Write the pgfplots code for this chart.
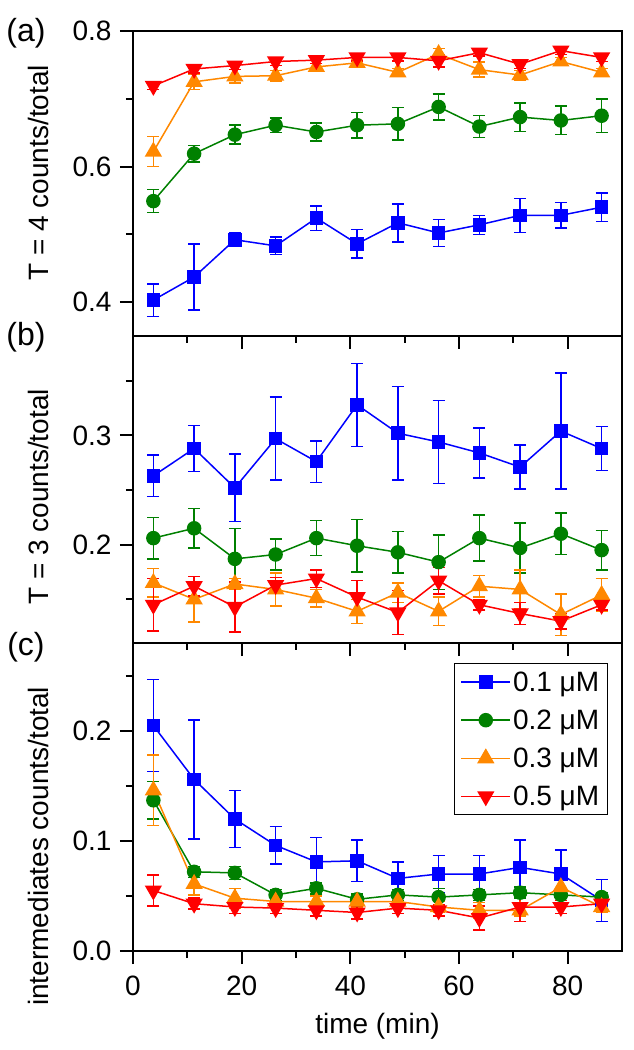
\documentclass[border=0pt]{standalone}
\usepackage{fontspec}
\setmainfont{Liberation Sans}
\usepackage{pgfplots}
\usepackage{pgfplotstable}
\pgfplotsset{compat=1.18}
\definecolor{cB}{RGB}{0,0,255}
\definecolor{cG}{RGB}{0,128,0}
\definecolor{cO}{RGB}{255,136,0}
\definecolor{cR}{RGB}{255,0,0}

\pgfplotstableread{
x     b     be    g     ge    o     oe    r     re
3.75  0.403 0.024 0.549 0.017 0.622 0.022 0.719 0.005
11.25 0.437 0.049 0.619 0.012 0.725 0.011 0.744 0.006
18.75 0.492 0.010 0.647 0.014 0.733 0.010 0.749 0.006
26.25 0.483 0.013 0.661 0.011 0.734 0.008 0.755 0.006
33.75 0.524 0.018 0.651 0.013 0.747 0.005 0.757 0.005
41.25 0.486 0.021 0.661 0.019 0.753 0.004 0.761 0.005
48.75 0.517 0.028 0.663 0.024 0.739 0.006 0.761 0.005
56.25 0.502 0.020 0.688 0.019 0.766 0.008 0.756 0.009
63.75 0.514 0.014 0.659 0.016 0.743 0.011 0.768 0.005
71.25 0.528 0.025 0.673 0.021 0.735 0.007 0.751 0.006
78.75 0.528 0.019 0.668 0.021 0.755 0.006 0.771 0.006
86.25 0.540 0.021 0.675 0.025 0.739 0.006 0.761 0.006
}\tabA

\pgfplotstableread{
x     b     be    g     ge    o     oe    r     re
3.75  0.263 0.019 0.206 0.019 0.165 0.013 0.145 0.024
11.25 0.288 0.021 0.215 0.018 0.150 0.021 0.162 0.009
18.75 0.252 0.031 0.187 0.028 0.164 0.005 0.143 0.023
26.25 0.297 0.038 0.191 0.014 0.159 0.015 0.163 0.007
33.75 0.276 0.019 0.206 0.016 0.151 0.008 0.169 0.008
41.25 0.328 0.038 0.199 0.024 0.139 0.011 0.152 0.015
48.75 0.302 0.043 0.193 0.019 0.156 0.009 0.138 0.020
56.25 0.294 0.038 0.184 0.025 0.139 0.013 0.167 0.012
63.75 0.284 0.023 0.206 0.021 0.162 0.010 0.145 0.005
71.25 0.271 0.020 0.197 0.023 0.159 0.018 0.137 0.010
78.75 0.304 0.053 0.210 0.019 0.136 0.019 0.130 0.007
86.25 0.288 0.020 0.195 0.018 0.154 0.015 0.145 0.005
}\tabB

\pgfplotstableread{
x     b     be    g     ge    o     oe    r     re
3.75  0.205 0.042 0.137 0.017 0.146 0.032 0.055 0.014
11.25 0.156 0.054 0.072 0.005 0.061 0.010 0.043 0.005
18.75 0.120 0.026 0.071 0.006 0.048 0.009 0.040 0.006
26.25 0.096 0.017 0.051 0.005 0.045 0.005 0.039 0.005
33.75 0.081 0.022 0.057 0.005 0.045 0.005 0.037 0.005
41.25 0.082 0.019 0.047 0.005 0.045 0.005 0.035 0.006
48.75 0.066 0.015 0.051 0.005 0.045 0.005 0.039 0.005
56.25 0.070 0.017 0.049 0.008 0.040 0.005 0.037 0.005
63.75 0.070 0.017 0.051 0.005 0.037 0.007 0.030 0.011
71.25 0.076 0.025 0.053 0.005 0.037 0.005 0.040 0.013
78.75 0.070 0.022 0.051 0.005 0.058 0.009 0.040 0.006
86.25 0.046 0.019 0.049 0.004 0.040 0.005 0.043 0.005
}\tabC

\pgfplotsset{
  panel/.style={
    scale only axis, width=489pt,
    xmin=0, xmax=90,
    xtick={0,20,...,80}, minor xtick={10,30,...,70},
    tick align=outside, xtick pos=left, ytick pos=left,
    major tick length=13pt, minor tick length=7pt,
    every tick/.style={black, line width=2pt},
    axis line style={line width=2.5pt},
    tick label style={font=\fontsize{28}{30}\selectfont},
    yticklabel style={xshift=-5pt},
    xticklabel style={yshift=-8pt},
    label style={font=\fontsize{28}{32}\selectfont},
    /pgf/number format/assume math mode=true,
    yticklabel style={/pgf/number format/.cd, fixed, fixed zerofill, precision=1},
    error bars/y dir=both, error bars/y explicit,
    error bars/error bar style={line width=1.5pt},
    error bars/error mark options={rotate=90, line width=1.5pt, mark size=6pt},
  },
  sB/.style={color=cB, line width=1.5pt, mark=square*, mark size=6pt},
  sG/.style={color=cG, line width=1.5pt, mark=*, mark size=6.5pt},
  sO/.style={color=cO, line width=1.5pt, mark=triangle*, mark size=8.5pt},
  sR/.style={color=cR, line width=1.5pt, mark=triangle*, mark size=8.5pt, mark options={rotate=180}},
}

\begin{document}
\begin{tikzpicture}
% panel (a)
\begin{axis}[panel, name=pa, at={(0pt,615pt)}, anchor=south west, height=305pt,
  ymin=0.35, ymax=0.8, ytick={0.4,0.6,0.8}, minor ytick={0.5,0.7},
  xticklabels={},
  ylabel={T = 4 counts/total},
  ylabel style={anchor=center, at={(axis description cs:-0.194,0.535)}}]
\addplot[sB] table[x=x, y=b, y error=be] {\tabA};
\addplot[sG] table[x=x, y=g, y error=ge] {\tabA};
\addplot[sO] table[x=x, y=o, y error=oe] {\tabA};
\addplot[sR] table[x=x, y=r, y error=re] {\tabA};
\end{axis}
% panel (b)
\begin{axis}[panel, name=pb, at={(0pt,308pt)}, anchor=south west, height=307pt,
  ymin=0.110, ymax=0.391, ytick={0.2,0.3}, minor ytick={0.15,0.25,0.35},
  xticklabels={},
  ylabel={T = 3 counts/total},
  ylabel style={anchor=center, at={(axis description cs:-0.194,0.476)}}]
\addplot[sB] table[x=x, y=b, y error=be] {\tabB};
\addplot[sG] table[x=x, y=g, y error=ge] {\tabB};
\addplot[sO] table[x=x, y=o, y error=oe] {\tabB};
\addplot[sR] table[x=x, y=r, y error=re] {\tabB};
\end{axis}
% panel (c)
\begin{axis}[panel, name=pc, at={(0pt,0pt)}, anchor=south west, height=308pt,
  ymin=0, ymax=0.28, ytick={0,0.1,0.2}, minor ytick={0.05,0.15,0.25},
  xlabel={time (min)},
  xlabel style={anchor=center, at={(axis description cs:0.5,-0.245)}},
  ylabel={intermediates counts/total},
  ylabel style={anchor=center, at={(axis description cs:-0.194,0.34)}},
  legend style={at={(axis description cs:0.971,0.935)}, anchor=north east,
    draw=black, line width=1.2pt, fill=white,
    font=\fontsize{28}{30}\selectfont, row sep=13pt,
    inner xsep=6pt, inner ysep=6pt, cells={anchor=west}},
  legend image code/.code={\draw[mark repeat=2,mark phase=2] plot coordinates {(0pt,0pt) (24.5pt,0pt) (49pt,0pt)};}]
\addplot[sB] table[x=x, y=b, y error=be] {\tabC};
\addplot[sG] table[x=x, y=g, y error=ge] {\tabC};
\addplot[sO] table[x=x, y=o, y error=oe] {\tabC};
\addplot[sR] table[x=x, y=r, y error=re] {\tabC};
\legend{0.1 μM, 0.2 μM, 0.3 μM, 0.5 μM}
\end{axis}
\node[font=\fontsize{32}{36}\selectfont] at ([xshift=-107pt,yshift=-2pt]pa.north west) {(a)};
\node[font=\fontsize{32}{36}\selectfont] at ([xshift=-107pt,yshift=-1pt]pb.north west) {(b)};
\node[font=\fontsize{32}{36}\selectfont] at ([xshift=-107pt,yshift=-4pt]pc.north west) {(c)};
\pgfresetboundingbox
\path[use as bounding box] (-133pt,-99pt) rectangle (500pt,951pt);
\end{tikzpicture}
\end{document}
